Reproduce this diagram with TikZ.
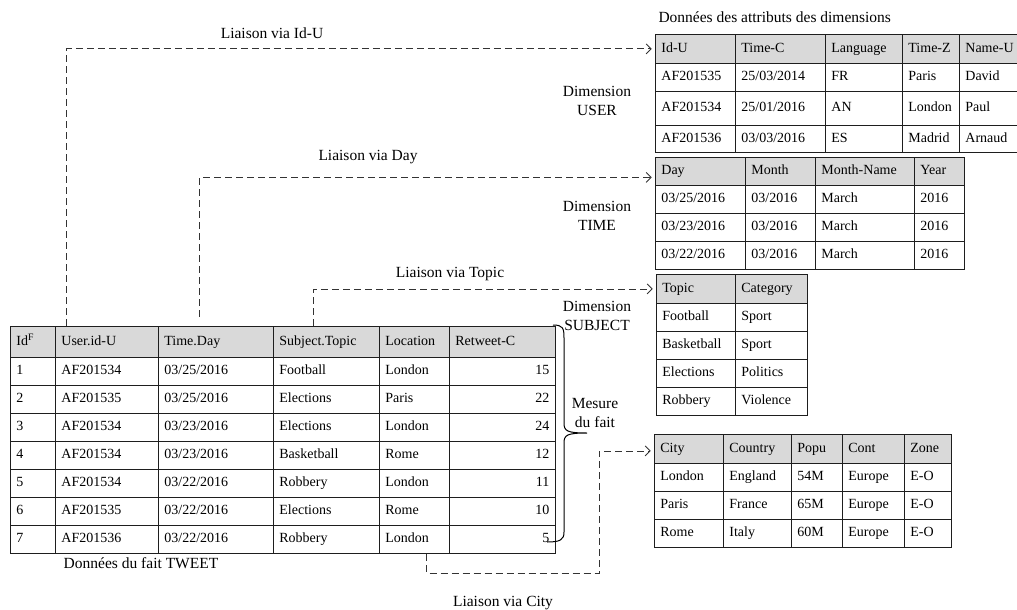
\documentclass[tikz,border=0pt]{standalone}
\usepackage{fontspec}
\setmainfont{Liberation Serif}
\usetikzlibrary{arrows.meta,matrix,positioning}

\definecolor{headgray}{RGB}{217,217,217}
\definecolor{gridcol}{RGB}{30,30,30}
\newcommand{\cellfont}{\fontsize{14}{16.5}\selectfont}
\newcommand{\labfont}{\fontsize{15.5}{18.5}\selectfont}

\tikzset{
  tbl/.style={matrix of nodes, matrix anchor=north west, inner sep=0pt,
    line width=1.4pt, column sep=-1.4pt, row sep=-1.4pt,
    nodes={draw=gridcol, font=\cellfont, align=left, inner xsep=6pt, inner ysep=0pt,
      minimum height=28pt, text height=10pt, text depth=3pt},
    row 1/.style={nodes={fill=headgray}}},
  cw/.style 2 args={column #1/.style={nodes={text width=#2}}},
  link/.style={draw=black!80, line width=0.8pt, dash pattern=on 7pt off 4pt,
    -{Straight Barb[length=5pt,width=10pt]}, shorten >=3pt},
  lab/.style={font=\labfont, align=center},
  brc/.style={line width=1pt}
}

\begin{document}
\begin{tikzpicture}[x=1pt,y=-1pt]
        \useasboundingbox (0,0) rectangle (1017,610);
        % fact table
        \matrix (fact) [tbl, cw={1}{33pt}, cw={2}{91pt}, cw={3}{103pt}, cw={4}{94pt},
          cw={5}{58pt}, cw={6}{94pt}, column 6/.append style={nodes={align=right}},
          row 1 column 6/.style={nodes={align=left}},
          row 1/.append style={nodes={minimum height=31pt}}] at (9,325) {
          Id\textsuperscript{F} & User.id-U & Time.Day & Subject.Topic & Location & Retweet-C \\
          1 & AF201534 & 03/25/2016 & Football & London & 15 \\
          2 & AF201535 & 03/25/2016 & Elections & Paris & 22 \\
          3 & AF201534 & 03/23/2016 & Elections & London & 24 \\
          4 & AF201534 & 03/23/2016 & Basketball & Rome & 12 \\
          5 & AF201534 & 03/22/2016 & Robbery & London & 11 \\
          6 & AF201535 & 03/22/2016 & Elections & Rome & 10 \\
          7 & AF201536 & 03/22/2016 & Robbery & London & 5 \\
        };
        \node[lab] at (141,563) (factname) {Données du fait TWEET};
        % dimension tables
        \node[lab, anchor=west] at (655,17) (dimtitle) {Données des attributs des dimensions};
        \matrix (user) [tbl, cw={1}{68pt}, cw={2}{78pt}, cw={3}{65pt}, cw={4}{45pt}, cw={5}{49pt},
          row 1/.append style={nodes={minimum height=29pt}},
          row 3/.style={nodes={minimum height=34pt}},
          row 4/.style={nodes={minimum height=27pt}}] at (654,33) {
          Id-U & Time-C & Language & Time-Z & Name-U \\
          AF201535 & 25/03/2014 & FR & Paris & David \\
          AF201534 & 25/01/2016 & AN & London & Paul \\
          AF201536 & 03/03/2016 & ES & Madrid & Arnaud \\
        };
        \matrix (time) [tbl, cw={1}{78pt}, cw={2}{58pt}, cw={3}{87pt}, cw={4}{38pt}] at (654,156) {
          Day & Month & Month-Name & Year \\
          03/25/2016 & 03/2016 & March & 2016 \\
          03/23/2016 & 03/2016 & March & 2016 \\
          03/22/2016 & 03/2016 & March & 2016 \\
        };
        \matrix (subject) [tbl, cw={1}{67pt}, cw={2}{60pt},
          row 1/.append style={nodes={minimum height=29pt}}] at (655,273) {
          Topic & Category \\
          Football & Sport \\
          Basketball & Sport \\
          Elections & Politics \\
          Robbery & Violence \\
        };
        \matrix (city) [tbl, cw={1}{57pt}, cw={2}{56pt}, cw={3}{39pt}, cw={4}{50pt}, cw={5}{35pt},
          row 1/.append style={nodes={minimum height=29pt}}] at (653,433) {
          City & Country & Popu & Cont & Zone \\
          London & England & 54M & Europe & E-O \\
          Paris & France & 65M & Europe & E-O \\
          Rome & Italy & 60M & Europe & E-O \\
        };
        \node[lab] at (597,101) (dimuser) {Dimension\\USER};
        \node[lab] at (597,216) (dimtime) {Dimension\\TIME};
        \node[lab] at (597,316) (dimsubject) {Dimension\\SUBJECT};
        % links
        \draw[link] ([xshift=12pt]fact-1-2.north west) |- (user-1-1.west);
        \draw[link] ([xshift=42pt,yshift=9pt]fact-1-3.north west) |- ([yshift=-6pt]time-1-1.west);
        \draw[link] ([xshift=41pt]fact-1-4.north west) |- (subject-1-1.west);
        \coordinate (citybend) at (599,573);
        \draw[link] ([xshift=12pt]fact-8-5.south) |- (citybend) |- ([yshift=-2pt]city-1-1.west);
        \node[lab] at (272,33) (lidu) {Liaison via Id-U};
        \node[lab] at (368,157) (lday) {Liaison via Day};
        \node[lab] at (450,274) (ltopic) {Liaison via Topic};
        \node[lab] at (503,603) (lcity) {Liaison via City};
        % measure brace
        \draw[brc] (553,325) .. controls (563,325) and (564,328) .. (564,338) -- (564,423)
          .. controls (564,431) and (567,433) .. (587,433)
          .. controls (567,433) and (564,435) .. (564,443) -- (564,532)
          .. controls (564,540) and (560,542) .. (547,542);
        \node[lab] at (595,413) (mesure) {Mesure\\du fait};
\end{tikzpicture}
\end{document}
